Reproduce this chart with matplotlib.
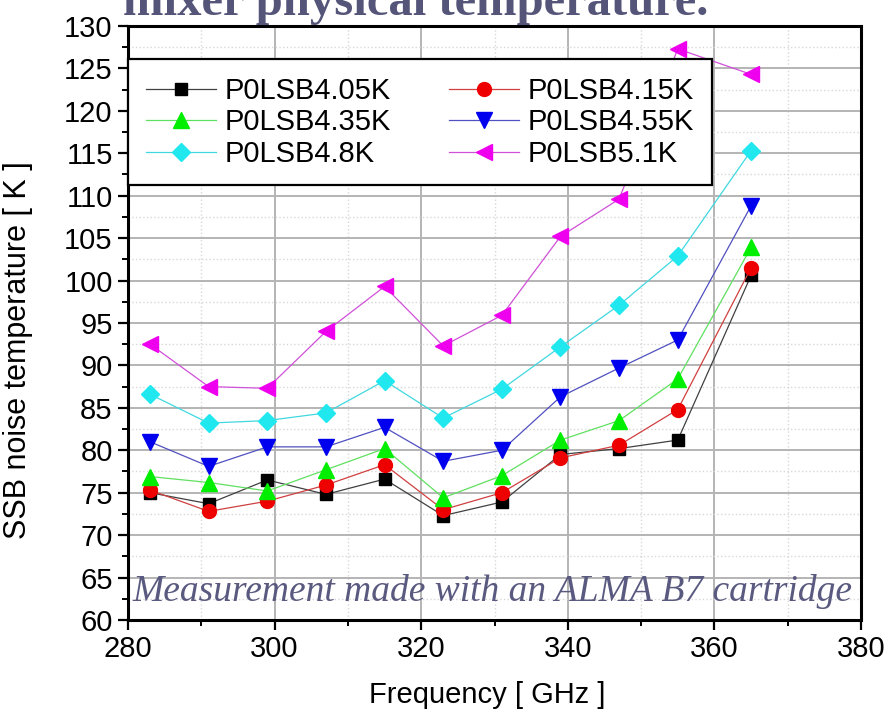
import matplotlib
matplotlib.use("Agg")
import matplotlib.pyplot as plt
from matplotlib.ticker import MultipleLocator


# Frequency points (GHz), shared by every series
FREQ_GHZ = [283, 291, 299, 307, 315, 323, 331, 339, 347, 355, 365]

# SSB noise temperature (K) for each mixer physical temperature
T_405 = [75.0, 73.7, 76.5, 74.8, 76.6, 72.3, 73.9, 79.5, 80.2, 81.2, 100.6]
T_415 = [75.3, 72.8, 74.0, 75.9, 78.3, 73.0, 75.0, 79.1, 80.6, 84.8, 101.5]
T_435 = [76.9, 76.2, 75.2, 77.7, 80.2, 74.4, 77.0, 81.2, 83.5, 88.4, 103.9]
T_455 = [81.0, 78.1, 80.4, 80.4, 82.7, 78.7, 80.0, 86.3, 89.7, 93.0, 108.8]
T_480 = [86.6, 83.2, 83.5, 84.4, 88.2, 83.8, 87.2, 92.2, 97.1, 102.9, 115.3]
T_510 = [92.5, 87.5, 87.3, 94.0, 99.3, 92.3, 95.9, 105.2, 109.6, 127.3, 124.3]

LABELS = ["P0LSB4.05K", "P0LSB4.15K", "P0LSB4.35K",
          "P0LSB4.55K", "P0LSB4.8K", "P0LSB5.1K"]

X_TICKS = [280, 300, 320, 340, 360, 380]
Y_TICKS = list(range(60, 131, 5))

TITLE = "mixer physical temperature."
NOTE = "Measurement made with an ALMA B7 cartridge"

NARROW = ["Liberation Sans Narrow", "Liberation Sans", "DejaVu Sans"]
SANS = ["Liberation Sans", "DejaVu Sans"]
SERIF = ["Liberation Serif", "DejaVu Serif"]


def main():
    fig = plt.figure(figsize=(8.86, 7.28), dpi=100)
    ax = fig.add_axes([0.1445, 0.1484, 0.8273, 0.8159])

    # (values, line colour, marker, marker colour, size)
    series = [
        (T_405, "#404040", "s", "black", 9),
        (T_415, "#d04040", "o", "#ee0000", 10),
        (T_435, "#60e060", "^", "#00ee00", 11),
        (T_455, "#5050c0", "v", "#0000ee", 11),
        (T_480, "#40d8e0", "D", "#20e8ee", 9),
        (T_510, "#d050d8", "<", "#ee00ee", 11),
    ]

    handles = []
    for (vals, lc, mk, mc, ms), label in zip(series, LABELS):
        (line,) = ax.plot(
            FREQ_GHZ,
            vals,
            color=lc,
            linewidth=0.9,
            marker=mk,
            markersize=ms,
            markerfacecolor=mc,
            markeredgecolor=mc,
            label=label,
            zorder=3,
        )
        handles.append(line)

    ax.set_xlim(280, 380)
    ax.set_ylim(60, 130)
    ax.set_xticks(X_TICKS)
    ax.set_yticks(Y_TICKS)
    ax.xaxis.set_minor_locator(MultipleLocator(10))
    ax.yaxis.set_minor_locator(MultipleLocator(2.5))

    ax.grid(True, which="major", color="#b4b4b4", linewidth=1.4, linestyle="-")
    ax.grid(True, which="minor", color="#d8d8d8", linewidth=1.0, linestyle=":")
    ax.set_axisbelow(True)

    for spine in ax.spines.values():
        spine.set_linewidth(2.2)

    ax.tick_params(which="major", direction="out", length=7, width=1.6,
                   top=False, right=False, pad=4)
    ax.tick_params(which="minor", direction="out", length=4, width=1.4,
                   top=False, right=False)
    for lab in ax.get_xticklabels() + ax.get_yticklabels():
        lab.set_family(NARROW)
        lab.set_fontsize(21)

    ax.set_xlabel("Frequency [ GHz ]", family=NARROW, fontsize=21)
    ax.xaxis.set_label_coords(0.49, -0.103)
    ax.set_ylabel("SSB noise temperature [ K ]", family=SANS, fontsize=22)
    ax.yaxis.set_label_coords(-0.13, 0.455)

    # legend fills row by row in the reference, matplotlib fills by column
    order = [0, 2, 4, 1, 3, 5]
    leg = ax.legend(
        [handles[i] for i in order],
        [LABELS[i] for i in order],
        loc="upper left",
        bbox_to_anchor=(0.0, 0.944),
        ncol=2,
        prop={"family": SANS, "size": 21},
        frameon=True,
        fancybox=False,
        framealpha=1.0,
        edgecolor="black",
        borderpad=0.6,
        labelspacing=0.12,
        handlelength=2.4,
        handletextpad=0.3,
        columnspacing=2.0,
        borderaxespad=0.0,
    )
    leg.get_frame().set_linewidth(1.6)

    ax.text(
        0.006, 0.018, NOTE,
        transform=ax.transAxes,
        family=SERIF, style="italic", fontsize=27, color="#5a5a80",
        ha="left", va="bottom", zorder=4,
    )

    fig.text(
        0.139, 0.979, TITLE,
        family=SERIF, weight="bold", fontsize=35, color="#55557a",
        ha="left", va="baseline",
    )

    fig.savefig("out.png", dpi=100)
    plt.close(fig)


if __name__ == "__main__":
    main()
